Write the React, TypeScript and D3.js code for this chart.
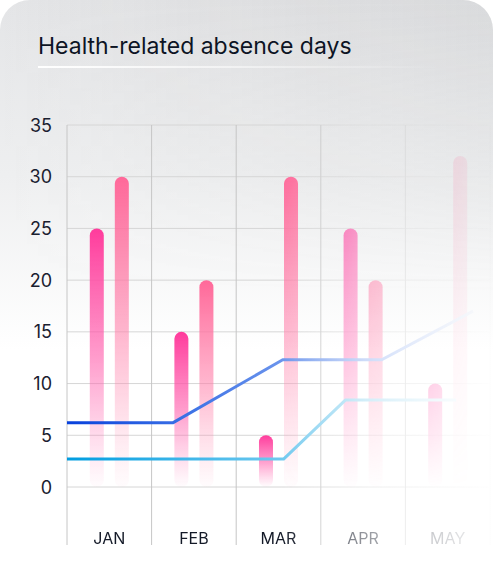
import * as d3 from 'd3';

// Chart data
const months: string[] = ['JAN', 'FEB', 'MAR', 'APR', 'MAY'];
const seriesA: number[] = [25, 15, 5, 25, 10]; // magenta bars
const seriesB: number[] = [30, 20, 30, 20, 32]; // pink bars
const yTicks: number[] = [0, 5, 10, 15, 20, 25, 30, 35];

// Step lines, x given in month units (0 = start of JAN)
const lineAx: number[] = [0, 1.25, 2.55, 3.72, 4.8];
const lineAy: number[] = [6.2, 6.2, 12.3, 12.3, 17];
const lineBx: number[] = [0, 2.56, 3.29, 4.6];
const lineBy: number[] = [2.7, 2.7, 8.4, 8.4];

const W = 493;
const H = 585;

export default function App() {
    const left = 67;
    const right = 490;
    const top = 125;
    const bottom = 487;

    const x0 = d3.scaleBand<string>().domain(months).range([left, right]).padding(0);
    const x1 = d3.scalePoint<string>().domain(['a', 'b']).range([0, x0.bandwidth()]).padding(1.19);
    const xl = d3.scaleLinear().domain([0, months.length]).range([left, right]);
    const y = d3.scaleLinear().domain([0, 35]).range([bottom, top]);

    const line = d3.line<[number, number]>()
        .x(d => xl(d[0]))
        .y(d => y(d[1]));

    const ptsA: [number, number][] = lineAx.map((v, i) => [v, lineAy[i]]);
    const ptsB: [number, number][] = lineBx.map((v, i) => [v, lineBy[i]]);

    const barW = 14;
    const edges = months.map(m => x0(m) as number).concat([right]);

    const font = 'Inter, "Noto Sans", sans-serif';

    return (
        <div style={{ position: 'absolute', left: 0, top: 0 }}>
            <svg width={W} height={H} style={{ display: 'block' }}>
                <defs>
                    <linearGradient id="cardBg" x1="0" y1="0" x2="0" y2="1">
                        <stop offset="0" stopColor="#e4e5e7" />
                        <stop offset="0.28" stopColor="#eeeff0" />
                        <stop offset="0.56" stopColor="#ffffff" />
                        <stop offset="1" stopColor="#ffffff" />
                    </linearGradient>
                    <linearGradient id="cardTint" x1="0" y1="0" x2="1" y2="0">
                        <stop offset="0" stopColor="#b0a8a4" stopOpacity="0" />
                        <stop offset="1" stopColor="#a8aaac" stopOpacity="0.18" />
                    </linearGradient>
                    <linearGradient id="tintFade" x1="0" y1="0" x2="0" y2="1">
                        <stop offset="0" stopColor="#fff" stopOpacity="1" />
                        <stop offset="0.5" stopColor="#fff" stopOpacity="0" />
                    </linearGradient>
                    <mask id="tintMask">
                        <rect x={0} y={0} width={W} height={H} fill="url(#tintFade)" />
                    </mask>
                    <linearGradient id="underline" x1="0" y1="0" x2="1" y2="0">
                        <stop offset="0" stopColor="#ffffff" stopOpacity="1" />
                        <stop offset="1" stopColor="#ffffff" stopOpacity="0" />
                    </linearGradient>
                    <linearGradient id="fadeX" gradientUnits="userSpaceOnUse" x1="0" y1="0" x2={W} y2="0">
                        <stop offset="0" stopColor="#fff" stopOpacity="1" />
                        <stop offset="0.57" stopColor="#fff" stopOpacity="1" />
                        <stop offset="0.74" stopColor="#fff" stopOpacity="0.45" />
                        <stop offset="0.91" stopColor="#fff" stopOpacity="0.17" />
                        <stop offset="1" stopColor="#fff" stopOpacity="0.03" />
                    </linearGradient>
                    <mask id="chartMask" maskUnits="userSpaceOnUse" x="0" y="0" width={W} height={H}>
                        <rect x={0} y={0} width={W} height={H} fill="url(#fadeX)" />
                    </mask>
                    <linearGradient id="barA" x1="0" y1="0" x2="0" y2="1">
                        <stop offset="0" stopColor="#ff3b9c" stopOpacity="1" />
                        <stop offset="0.5" stopColor="#ff5aaa" stopOpacity="0.6" />
                        <stop offset="1" stopColor="#ff7ab8" stopOpacity="0.02" />
                    </linearGradient>
                    <linearGradient id="barB" x1="0" y1="0" x2="0" y2="1">
                        <stop offset="0" stopColor="#ff6597" stopOpacity="0.98" />
                        <stop offset="0.5" stopColor="#ff7aa6" stopOpacity="0.55" />
                        <stop offset="1" stopColor="#ff9abb" stopOpacity="0.03" />
                    </linearGradient>
                    <linearGradient id="lineA" gradientUnits="userSpaceOnUse" x1={left} y1="0" x2={right} y2="0">
                        <stop offset="0" stopColor="#0841dc" />
                        <stop offset="0.3" stopColor="#3f74e6" />
                        <stop offset="0.6" stopColor="#7ea2ef" />
                        <stop offset="1" stopColor="#c6d6f8" />
                    </linearGradient>
                    <linearGradient id="lineB" gradientUnits="userSpaceOnUse" x1={left} y1="0" x2={right} y2="0">
                        <stop offset="0" stopColor="#009de0" />
                        <stop offset="0.45" stopColor="#62c4ee" />
                        <stop offset="0.75" stopColor="#a6dcf2" />
                        <stop offset="1" stopColor="#d4eef8" />
                    </linearGradient>
                </defs>

                {/* card */}
                <rect x={0} y={0} width={W} height={H + 40} rx={30} fill="url(#cardBg)" />
                <rect x={0} y={0} width={W} height={H + 40} rx={30} fill="url(#cardTint)" mask="url(#tintMask)" />

                {/* title */}
                <text x={38} y={54} fontFamily={font} fontSize={23} fill="#0d1424">
                    Health-related absence days
                </text>
                <rect x={38} y={66} width={405} height={2} fill="url(#underline)" />

                {/* y labels */}
                {yTicks.map(t => (
                    <text key={t} x={52} y={y(t)} textAnchor="end" dominantBaseline="central"
                        fontFamily={font} fontSize={18} fill="#1a2030">
                        {t}
                    </text>
                ))}

                <g mask="url(#chartMask)">
                    {/* horizontal grid */}
                    {yTicks.map(t => (
                        <line key={t} x1={left} x2={right} y1={y(t)} y2={y(t)} stroke="#d6d6d6" strokeWidth={1} />
                    ))}
                    {/* vertical grid */}
                    {edges.map((e, i) => (
                        <line key={i} x1={e} x2={e} y1={top} y2={545} stroke="#c6c6c6" strokeWidth={1} />
                    ))}

                    {/* bars */}
                    {months.map((m, i) => (
                        <g key={m} transform={`translate(${x0(m)},0)`}>
                            <rect x={(x1('a') as number) - barW / 2} y={y(seriesA[i])} width={barW}
                                height={y(0) - y(seriesA[i])} rx={barW / 2} fill="url(#barA)" />
                            <rect x={(x1('b') as number) - barW / 2} y={y(seriesB[i])} width={barW}
                                height={y(0) - y(seriesB[i])} rx={barW / 2} fill="url(#barB)" />
                        </g>
                    ))}

                    {/* lines */}
                    <path d={line(ptsB) || ''} fill="none" stroke="url(#lineB)" strokeWidth={3} strokeLinejoin="round" />
                    <path d={line(ptsA) || ''} fill="none" stroke="url(#lineA)" strokeWidth={3} strokeLinejoin="round" />

                    {/* x labels */}
                    {months.map(m => (
                        <text key={m} x={(x0(m) as number) + x0.bandwidth() / 2} y={538} textAnchor="middle"
                            dominantBaseline="central" fontFamily={font} fontSize={16} fill="#141a28">
                            {m}
                        </text>
                    ))}
                </g>
            </svg>
        </div>
    );
}
